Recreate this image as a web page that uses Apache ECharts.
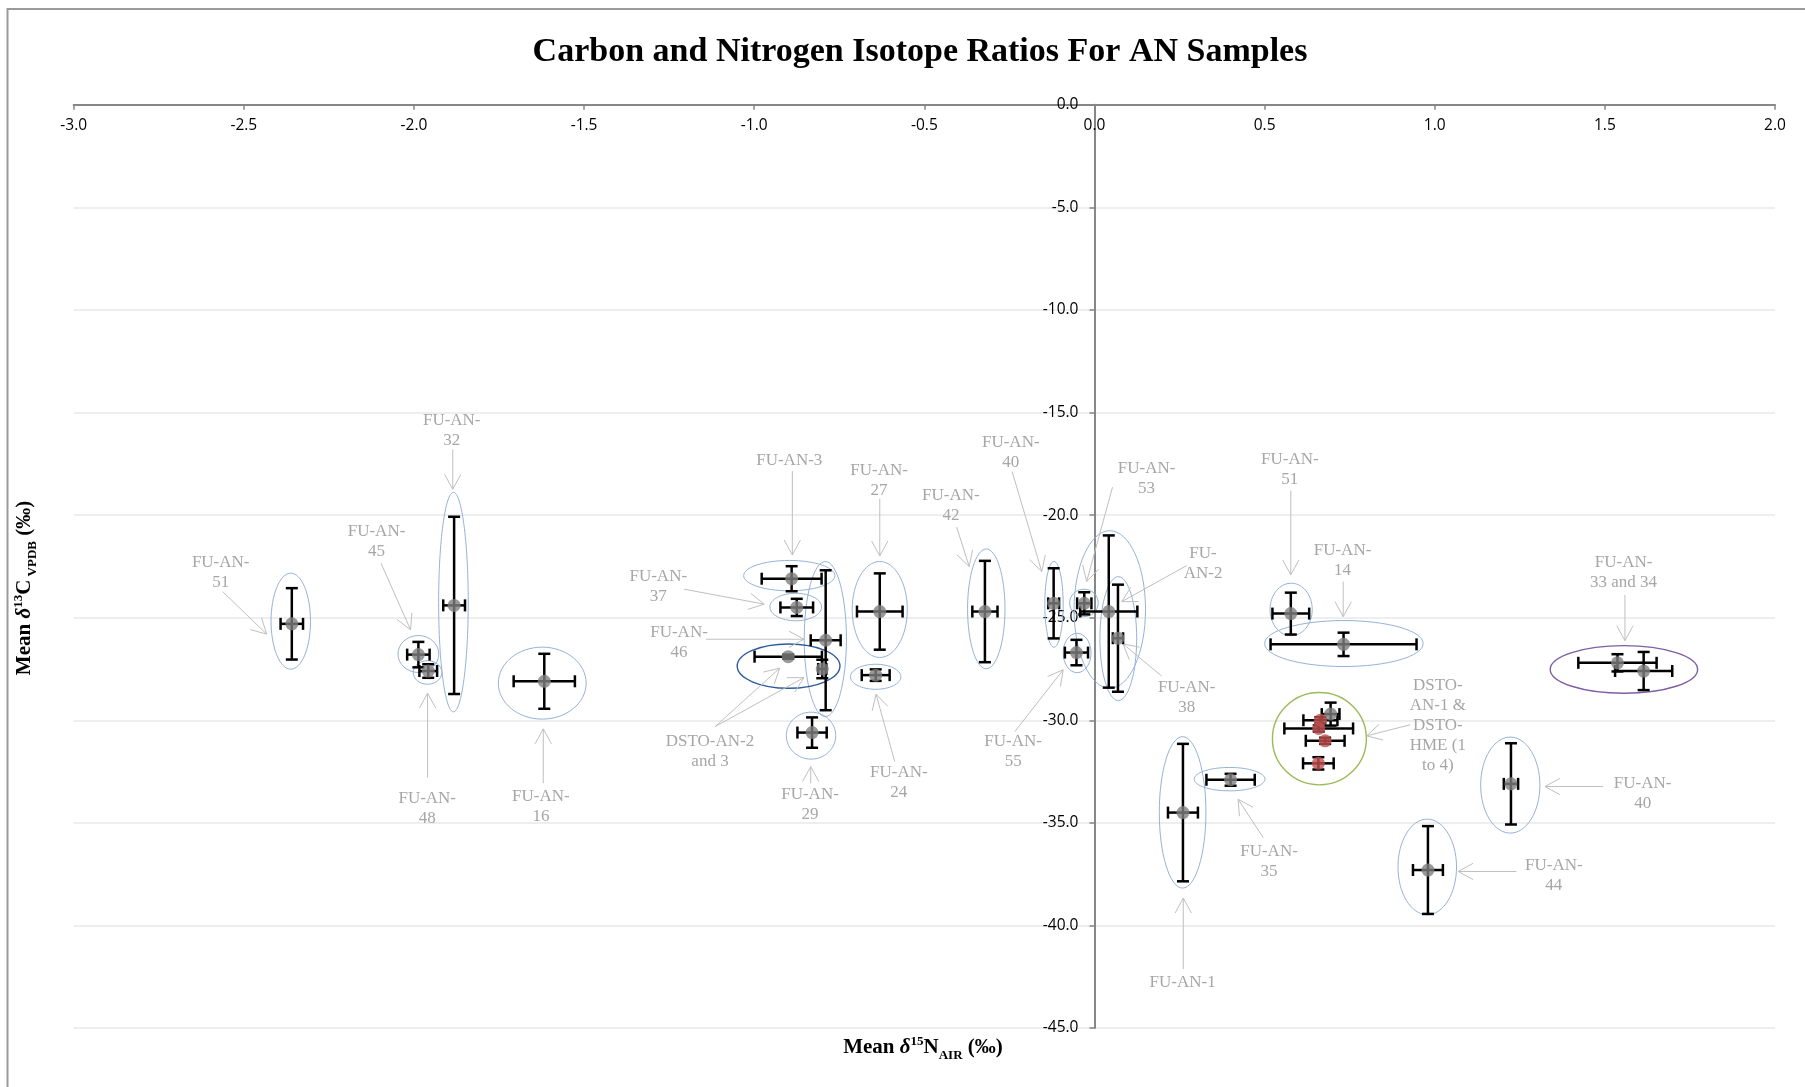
<!DOCTYPE html>
<html>
<head>
<meta charset="utf-8">
<script src="https://cdn.jsdelivr.net/npm/echarts@6/dist/echarts.min.js"></script>
<style>
html,body{margin:0;padding:0;background:#fff;}
#chart{width:1805px;height:1087px;}
</style>
</head>
<body>
<div id="chart"></div>
<script>
// ---------- DATA ----------
const sampleNames = ['FU-AN-51','FU-AN-45','FU-AN-48','FU-AN-32','FU-AN-16','FU-AN-3','FU-AN-37','FU-AN-46',
  'DSTO-AN-2','DSTO-AN-3','FU-AN-29','FU-AN-27','FU-AN-24','FU-AN-42','FU-AN-40','FU-AN-53','FU-AN-2','FU-AN-38',
  'FU-AN-55','FU-AN-51','FU-AN-14','DSTO-AN-1','FU-AN-1','FU-AN-35','FU-AN-44','FU-AN-40','FU-AN-33','FU-AN-34'];
const d15N = [-2.359,-1.987,-1.958,-1.882,-1.617,-0.890,-0.875,-0.790,
  -0.900,-0.800,-0.830,-0.631,-0.643,-0.322,-0.120,-0.030,0.042,0.069,
  -0.053,0.577,0.732,0.694,0.260,0.400,0.980,1.224,1.537,1.614];
const d13C = [-25.3,-26.8,-27.6,-24.4,-28.1,-23.1,-24.5,-26.1,
  -26.9,-27.5,-30.6,-24.7,-27.8,-24.7,-24.3,-24.3,-24.7,-26.0,
  -26.7,-24.8,-26.3,-29.7,-34.5,-32.9,-37.3,-33.1,-27.2,-27.6];
const d15N_sd = [0.033,0.033,0.026,0.032,0.090,0.088,0.048,0.044,
  0.099,0.012,0.043,0.067,0.041,0.037,0.016,0.021,0.084,0.015,
  0.034,0.054,0.2145,0.026,0.044,0.071,0.044,0.021,0.115,0.084];
const d13C_sd = [1.74,0.62,0.33,4.32,1.34,0.61,0.42,3.41,
  0.10,0.45,0.74,1.86,0.28,2.47,1.71,0.54,3.71,2.61,
  0.62,1.02,0.57,0.56,3.35,0.29,2.14,1.98,0.42,0.93];

const hmeNames = ['DSTO-HME-1','DSTO-HME-2','DSTO-HME-3','DSTO-HME-4'];
const hme15N = [0.664,0.659,0.678,0.658];
const hme13C = [-30.0,-30.4,-31.0,-32.1];
const hme15N_sd = [0.050,0.101,0.057,0.045];
const hme13C_sd = [0.15,0.15,0.15,0.30];

// group ellipses: centre (d15N, d13C) and half-extent in data units
const ellipseCx = [-2.362,-1.987,-1.960,-1.884,-1.623,-0.897,-0.878,-0.791,-0.899,-0.833,-0.631,-0.643,-0.318,
  -0.119,-0.031,0.045,0.070,-0.051,0.578,0.733,0.661,0.259,0.397,0.978,1.222,1.556];
const ellipseCy = [-25.17,-26.77,-27.67,-24.24,-28.19,-22.95,-24.48,-26.04,-27.36,-30.75,-24.6,-27.88,-24.57,
  -24.35,-24.28,-24.6,-26.02,-26.72,-24.6,-26.26,-30.9,-34.49,-32.87,-37.15,-33.16,-27.52];
const ellipseRx = [0.058,0.060,0.042,0.0435,0.129,0.134,0.076,0.062,0.151,0.0726,0.081,0.074,0.055,
  0.027,0.042,0.105,0.054,0.041,0.062,0.233,0.138,0.0685,0.104,0.086,0.087,0.2166];
const ellipseRy = [2.34,0.90,0.575,5.35,1.754,0.74,0.67,3.78,1.08,1.145,2.34,0.61,2.92,
  2.09,0.67,3.84,3.02,0.96,1.28,1.12,2.25,3.69,0.57,2.33,2.34,1.16];
const ellipseGroup = ['FU','FU','FU','FU','FU','FU','FU','FU','DSTO-AN-2/3','FU','FU','FU','FU',
  'FU','FU','FU','FU','FU','FU','FU','DSTO-HME','FU','FU','FU','FU','FU-AN-33/34'];

// callout labels (text centre in data units)
const calloutText = ['FU-AN-\n51','FU-AN-\n45','FU-AN-\n32','FU-AN-\n48','FU-AN-\n16','FU-AN-3','FU-AN-\n27',
  'FU-AN-\n42','FU-AN-\n40','FU-AN-\n37','FU-AN-\n46','DSTO-AN-2\nand 3','FU-AN-\n29','FU-AN-\n24','FU-AN-\n55',
  'FU-AN-\n53','FU-\nAN-2','FU-AN-\n38','FU-AN-\n51','FU-AN-\n14','DSTO-\nAN-1 &\nDSTO-\nHME (1\nto 4)',
  'FU-AN-\n33 and 34','FU-AN-\n40','FU-AN-1','FU-AN-\n35','FU-AN-\n44'];
const calloutX = [-2.568,-2.110,-1.889,-1.961,-1.627,-0.897,-0.633,-0.422,-0.246,-1.282,-1.221,-1.130,-0.836,-0.575,-0.239,
  0.153,0.319,0.271,0.574,0.729,1.009,1.555,1.611,0.259,0.513,1.350];
const calloutY = [-22.82,-21.31,-15.89,-34.29,-34.21,-17.34,-18.33,-19.53,-16.97,-23.48,-26.20,-31.53,-34.12,-33.04,-31.53,
  -18.24,-22.36,-28.88,-17.76,-22.23,-30.28,-22.80,-33.59,-42.78,-36.89,-37.56];

// callout arrows: tail -> head (data units)
const arrowX1 = [-2.562,-2.097,-1.886,-1.960,-1.620,-0.888,-0.631,-0.405,-0.242,-1.206,-1.142,-1.115,-1.115,-0.834,-0.587,-0.234,
  0.053,0.271,0.197,0.577,0.731,0.928,1.559,1.495,0.261,0.496,1.240];
const arrowY1 = [-23.73,-22.34,-16.79,-32.79,-33.07,-17.85,-19.21,-20.59,-17.88,-23.61,-26.05,-30.31,-30.31,-33.07,-32.01,-30.55,
  -18.64,-22.46,-27.84,-18.81,-23.24,-30.22,-23.89,-33.23,-42.13,-35.72,-37.37];
const arrowX2 = [-2.433,-2.010,-1.886,-1.960,-1.620,-0.888,-0.631,-0.368,-0.155,-0.971,-0.854,-0.925,-0.854,-0.834,-0.642,-0.092,
  -0.023,0.080,0.084,0.577,0.731,0.800,1.559,1.324,0.261,0.422,1.069];
const arrowY2 = [-25.80,-25.59,-18.74,-28.68,-30.42,-21.94,-21.99,-22.51,-22.75,-24.34,-26.05,-27.46,-27.92,-32.26,-28.73,-27.54,
  -23.24,-24.22,-26.28,-22.91,-24.95,-30.76,-26.12,-33.23,-38.67,-33.85,-37.37];

const xTicks = {min: -3, max: 2, interval: 0.5};
const yTicks = {min: -45, max: 0, interval: 5};

// ---------- CHART ----------
const W = 1805, H = 1087;
const gridLeft = 73.7, gridRight = 30, gridTop = 104.8, gridBottom = 59;
const plotW = W - gridLeft - gridRight;
// the vertical axis crosses the horizontal one at d15N = 0
const yAxisOffset = -((0 - xTicks.min) / (xTicks.max - xTicks.min)) * plotW;

const chart = echarts.init(document.getElementById('chart'), null, {renderer: 'canvas'});

const mainData = d15N.map((x, i) => [x, d13C[i], d15N_sd[i], d13C_sd[i]]);
const hmeData = hme15N.map((x, i) => [x, hme13C[i], hme15N_sd[i], hme13C_sd[i]]);
const ellipseData = ellipseCx.map((x, i) => [x, ellipseCy[i], ellipseRx[i], ellipseRy[i]]);
const calloutData = calloutX.map((x, i) => [x, calloutY[i]]);
const arrowData = arrowX1.map((x, i) => [x, arrowY1[i], arrowX2[i], arrowY2[i]]);

const ellipseColors = {'FU': '#95B3D7', 'DSTO-AN-2/3': '#2E5C9A', 'DSTO-HME': '#9BBB59', 'FU-AN-33/34': '#7F5FA3'};

function errorBarItem(params, api) {
  const x = api.value(0), y = api.value(1), ex = api.value(2), ey = api.value(3);
  const l = api.coord([x - ex, y]), r = api.coord([x + ex, y]);
  const t = api.coord([x, y + ey]), b = api.coord([x, y - ey]);
  const cap = 6;
  const st = {stroke: '#000', lineWidth: 2.5};
  return {type: 'group', children: [
    {type: 'line', shape: {x1: l[0], y1: l[1], x2: r[0], y2: r[1]}, style: st},
    {type: 'line', shape: {x1: l[0], y1: l[1] - cap, x2: l[0], y2: l[1] + cap}, style: st},
    {type: 'line', shape: {x1: r[0], y1: r[1] - cap, x2: r[0], y2: r[1] + cap}, style: st},
    {type: 'line', shape: {x1: t[0], y1: t[1], x2: b[0], y2: b[1]}, style: st},
    {type: 'line', shape: {x1: t[0] - cap, y1: t[1], x2: t[0] + cap, y2: t[1]}, style: st},
    {type: 'line', shape: {x1: b[0] - cap, y1: b[1], x2: b[0] + cap, y2: b[1]}, style: st}
  ]};
}

function ellipseItem(params, api) {
  const c = api.coord([api.value(0), api.value(1)]);
  const ex = api.coord([api.value(0) + api.value(2), api.value(1)]);
  const ey = api.coord([api.value(0), api.value(1) + api.value(3)]);
  const g = ellipseGroup[params.dataIndex];
  return {type: 'ellipse',
    shape: {cx: c[0], cy: c[1], rx: Math.abs(ex[0] - c[0]), ry: Math.abs(ey[1] - c[1])},
    style: {fill: 'none', stroke: ellipseColors[g], lineWidth: g === 'FU' ? 1 : 1.4}};
}

function arrowItem(params, api) {
  const p1 = api.coord([api.value(0), api.value(1)]);
  const p2 = api.coord([api.value(2), api.value(3)]);
  const ang = Math.atan2(p2[1] - p1[1], p2[0] - p1[0]);
  const L = 17, a = 0.5;
  const h1 = [p2[0] - L * Math.cos(ang - a), p2[1] - L * Math.sin(ang - a)];
  const h2 = [p2[0] - L * Math.cos(ang + a), p2[1] - L * Math.sin(ang + a)];
  const st = {stroke: '#BFBFBF', lineWidth: 1, fill: 'none'};
  return {type: 'group', children: [
    {type: 'line', shape: {x1: p1[0], y1: p1[1], x2: p2[0], y2: p2[1]}, style: st},
    {type: 'polyline', shape: {points: [h1, p2, h2]}, style: st}
  ]};
}

function calloutItem(params, api) {
  const p = api.coord([api.value(0), api.value(1)]);
  return {type: 'text', x: p[0], y: p[1],
    style: {text: calloutText[params.dataIndex], fill: '#A6A6A6',
      font: '17px "Liberation Serif", serif', lineHeight: 20,
      align: 'center', verticalAlign: 'middle'}};
}

const richAxis = {
  b: {fontFamily: '"Liberation Serif", serif', fontWeight: 'bold', fontSize: 21, lineHeight: 28, fill: '#000'},
  i: {fontFamily: '"Liberation Serif", serif', fontWeight: 'bold', fontStyle: 'italic', fontSize: 21, lineHeight: 28, fill: '#000'},
  sup: {fontFamily: '"Liberation Serif", serif', fontWeight: 'bold', fontSize: 13, lineHeight: 14, verticalAlign: 'top', fill: '#000', padding: [1, 0, 0, 0]},
  sub: {fontFamily: '"Liberation Serif", serif', fontWeight: 'bold', fontSize: 13, lineHeight: 14, verticalAlign: 'bottom', fill: '#000'}
};

const option = {
  animation: false,
  backgroundColor: '#fff',
  title: {
    text: 'Carbon and Nitrogen Isotope Ratios For AN Samples',
    left: 915, top: 30, textAlign: 'center',
    textStyle: {fontFamily: '"Liberation Serif", serif', fontWeight: 'bold', fontSize: 34, color: '#000'}
  },
  graphic: [
    {type: 'rect', silent: true, z: -10, shape: {x: 7.5, y: 9, width: 1820, height: 1100},
      style: {fill: 'none', stroke: '#9A9A9A', lineWidth: 2}},
    {type: 'text', x: 923, y: 1048, style: {
      text: '{b|Mean }{i|δ}{sup|15}{b|N}{sub|AIR}{b| (‰)}', rich: richAxis,
      align: 'center', verticalAlign: 'middle'}},
    {type: 'text', x: 25, y: 588, rotation: Math.PI / 2, style: {
      text: '{b|Mean }{i|δ}{sup|13}{b|C}{sub| VPDB}{b| (‰)}', rich: richAxis,
      align: 'center', verticalAlign: 'middle'}}
  ],
  grid: {left: gridLeft, right: gridRight, top: gridTop, bottom: gridBottom, containLabel: false},
  xAxis: {
    type: 'value', position: 'top', min: xTicks.min, max: xTicks.max, interval: xTicks.interval,
    axisLine: {onZero: false, lineStyle: {color: '#878787', width: 2}},
    axisTick: {inside: true, length: 5, lineStyle: {color: '#878787', width: 1.5}},
    axisLabel: {inside: true, margin: 13, color: '#000', fontFamily: '"Open Sans", sans-serif', fontSize: 15.5,
      formatter: v => v.toFixed(1)},
    splitLine: {show: false}
  },
  yAxis: {
    type: 'value', position: 'left', offset: yAxisOffset,
    min: yTicks.min, max: yTicks.max, interval: yTicks.interval,
    axisLine: {onZero: false, lineStyle: {color: '#878787', width: 2}},
    axisTick: {length: 5, lineStyle: {color: '#878787', width: 1.5}},
    axisLabel: {margin: 16, color: '#000', fontFamily: '"Open Sans", sans-serif', fontSize: 15.5,
      formatter: v => v.toFixed(1)},
    splitLine: {show: true, lineStyle: {color: '#E8E8E8', width: 1.5}}
  },
  series: [
    {type: 'custom', name: 'groups', renderItem: ellipseItem, data: ellipseData, encode: {x: 0, y: 1}, z: 3, silent: true, clip: false},
    {type: 'custom', name: 'arrows', renderItem: arrowItem, data: arrowData, encode: {x: [0, 2], y: [1, 3]}, z: 3, silent: true, clip: false},
    {type: 'custom', name: 'callouts', renderItem: calloutItem, data: calloutData, encode: {x: 0, y: 1}, z: 3, silent: true, clip: false},
    {type: 'custom', name: 'err', renderItem: errorBarItem, data: mainData, encode: {x: 0, y: 1}, z: 4},
    {type: 'custom', name: 'errHME', renderItem: errorBarItem, data: hmeData, encode: {x: 0, y: 1}, z: 4},
    {type: 'scatter', name: 'Samples', data: mainData.map(d => [d[0], d[1]]), symbol: 'circle', symbolSize: 13,
      itemStyle: {color: '#7F7F7F'}, z: 5},
    {type: 'scatter', name: 'DSTO-HME', data: hmeData.map(d => [d[0], d[1]]), symbol: 'circle', symbolSize: 13,
      itemStyle: {color: '#C0504D'}, z: 6}
  ]
};
chart.setOption(option);
</script>
</body>
</html>
